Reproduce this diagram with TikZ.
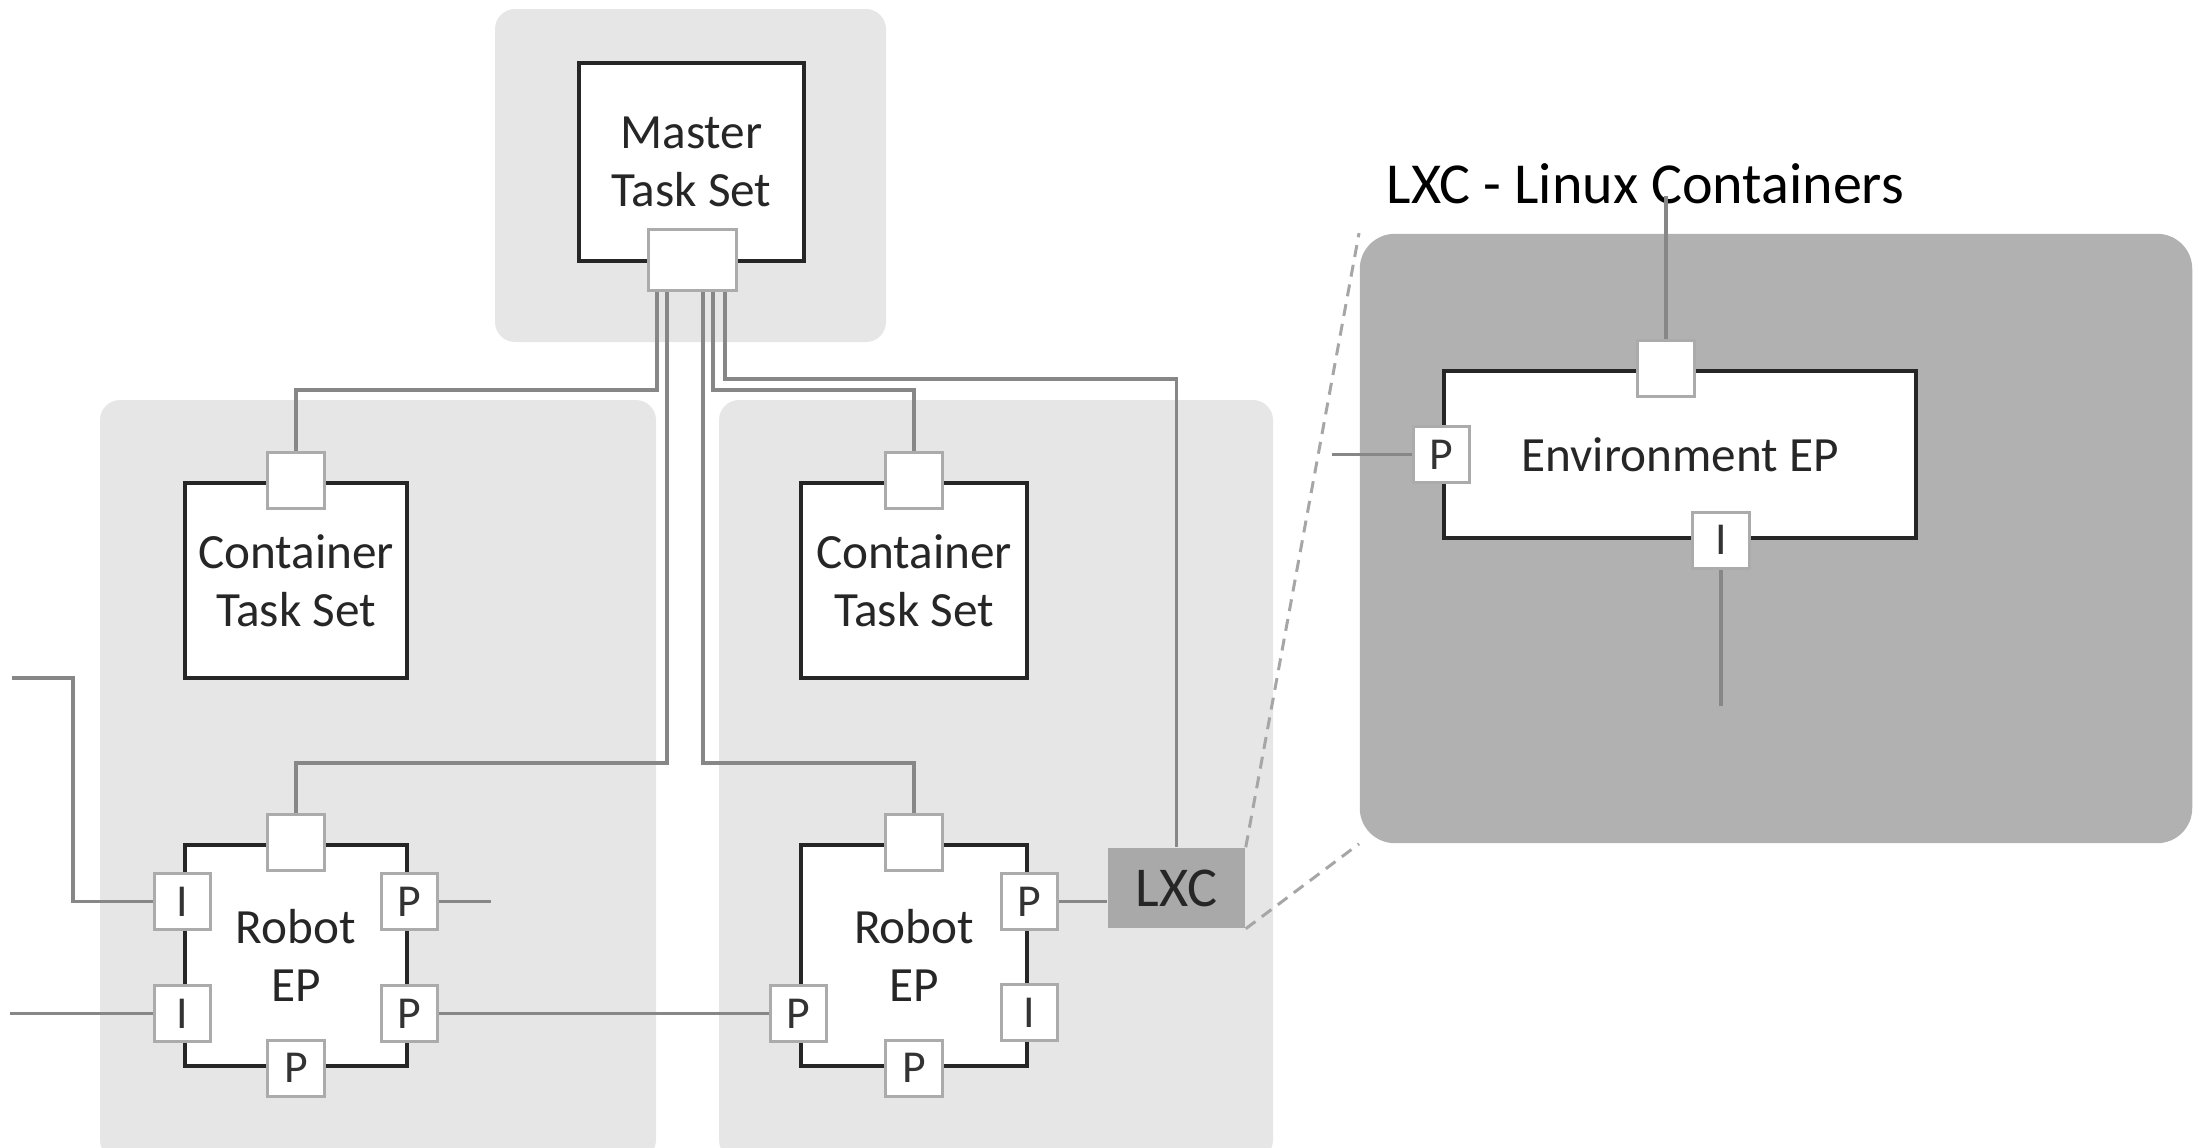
\documentclass[tikz,border=0pt]{standalone}
\usepackage{fontspec}
\setmainfont{Carlito}
\usepackage{tikz}
\usetikzlibrary{positioning,calc}
\definecolor{painel}{HTML}{E6E6E6}
\definecolor{painelescuro}{HTML}{B1B1B1}
\definecolor{fio}{HTML}{878787}
\definecolor{bordaporta}{HTML}{ABABAB}
\definecolor{caixalxc}{HTML}{A9A9A9}

\begin{document}
\begin{tikzpicture}[x=0.01cm, y=-0.01cm,
        panel/.style={fill=painel, rounded corners=0.2cm},
        box/.style={draw=black!85, line width=0.045cm, fill=white, align=center, inner sep=0pt, font=\fontsize{14}{16.5}\selectfont, text=black!85},
        port/.style={draw=bordaporta, line width=0.03cm, fill=white, minimum size=0.56cm, inner sep=0pt, font=\fontsize{13}{15}\selectfont, text=black!80},
        wire/.style={draw=fio, line width=0.038cm},
        zoomline/.style={draw=gray!70, line width=0.03cm, dash pattern=on 0.12cm off 0.08cm}
    ]
    \useasboundingbox (0,0) rectangle (2202,1148);
    \clip (0,0) rectangle (2202,1148);
    % Painéis
    \fill[panel] (495,9) rectangle (886,342);
    \fill[panel] (100,400) rectangle (656,1160);
    \fill[panel] (719,400) rectangle (1273,1160);
    \node[fill=painelescuro, rounded corners=0.35cm, minimum width=8.32cm, minimum height=6.09cm, inner sep=0pt] (lxcpanel) at (1776,538.5) {};
    \node[anchor=base west, font=\fontsize{16.5}{19}\selectfont, inner sep=0pt] (lxctitle) at (1386,203) {LXC - Linux Containers};
    % Nós
    \node[box, minimum width=2.25cm, minimum height=1.98cm] (master) at (691.5,162) {Master\\Task Set};
    \node[box, minimum width=2.22cm, minimum height=1.95cm] (ctsL) at (296,580.5) {Container\\Task Set};
    \node[box, minimum width=2.26cm, minimum height=1.95cm] (ctsR) at (914,580.5) {Container\\Task Set};
    \node[box, minimum width=2.22cm, minimum height=2.21cm] (robotL) at (296,955.5) {Robot\\EP};
    \node[box, minimum width=2.26cm, minimum height=2.21cm] (robotR) at (914,955.5) {Robot\\EP};
    \node[box, minimum width=4.72cm, minimum height=1.67cm] (env) at (1680,454.5) {Environment EP};
    \node[fill=caixalxc, minimum width=1.37cm, minimum height=0.80cm, inner sep=0pt, font=\fontsize{16}{19}\selectfont, text=black!85] (lxc) at (1176.5,888) {LXC};
    % Portas
    \node[port, minimum width=0.87cm, minimum height=0.61cm] (mport) at (692.5,260) {};
    \node[port] (ctsLport) at (ctsL.north) {};
    \node[port] (ctsRport) at (ctsR.north) {};
    \node[port] (robotLtop) at (robotL.north) {};
    \node[port] (robotLi1) at ($(robotL.west)+(0,-54)$) {I};
    \node[port] (robotLi2) at ($(robotL.west)+(0,58)$) {I};
    \node[port] (robotLp1) at ($(robotL.east)+(0,-54)$) {P};
    \node[port] (robotLp2) at ($(robotL.east)+(0,58)$) {P};
    \node[port] (robotLp3) at (robotL.south) {P};
    \node[port] (robotRtop) at (robotR.north) {};
    \node[port] (robotRp1) at ($(robotR.east)+(0,-54)$) {P};
    \node[port] (robotRi) at ($(robotR.east)+(0,57)$) {I};
    \node[port] (robotRpL) at ($(robotR.west)+(0,58)$) {P};
    \node[port] (robotRp3) at (robotR.south) {P};
    \node[port] (envtop) at ($(env.north)+(-14,0)$) {};
    \node[port] (envp) at (env.west) {P};
    \node[port] (envi) at ($(env.south)+(41,0)$) {I};
    % Pontas soltas
    \coordinate (inA) at (12,678);
    \coordinate (inB) at (10,0);
    \coordinate (outA) at (491,0);
    \coordinate (envin) at (1332,0);
    \coordinate (envout) at (0,196);
    \coordinate (envdown) at (0,706);
    % Ligações
    \draw[wire] ([xshift=-3.55mm]mport.south) -- ++(0,98) -| (ctsLport);
    \draw[wire] ([xshift=-2.55mm]mport.south) -- ++(0,471) -| (robotLtop);
    \draw[wire] ([xshift=1.05mm]mport.south) -- ++(0,471) -| (robotRtop);
    \draw[wire] ([xshift=2.05mm]mport.south) -- ++(0,98) -| (ctsRport);
    \draw[wire] ([xshift=3.25mm]mport.south) -- ++(0,87) -| (lxc);
    \draw[wire] (inA) -- (73,678) |- (robotLi1);
    \draw[wire] (robotLi2) -- (robotLi2 -| inB);
    \draw[wire] (robotLp1) -- (robotLp1 -| outA);
    \draw[wire] (robotLp2) -- (robotRpL);
    \draw[wire] (robotRp1) -- (robotRp1 -| lxc.west);
    \draw[wire] (envp) -- (envp -| envin);
    \draw[wire] (envtop) -- (envtop |- envout);
    \draw[wire] (envi) -- (envi |- envdown);
    % Zoom
    \draw[zoomline] (lxc.north east) -- (lxcpanel.north west);
    \draw[zoomline] (lxc.south east) -- (lxcpanel.south west);
\end{tikzpicture}
\end{document}
